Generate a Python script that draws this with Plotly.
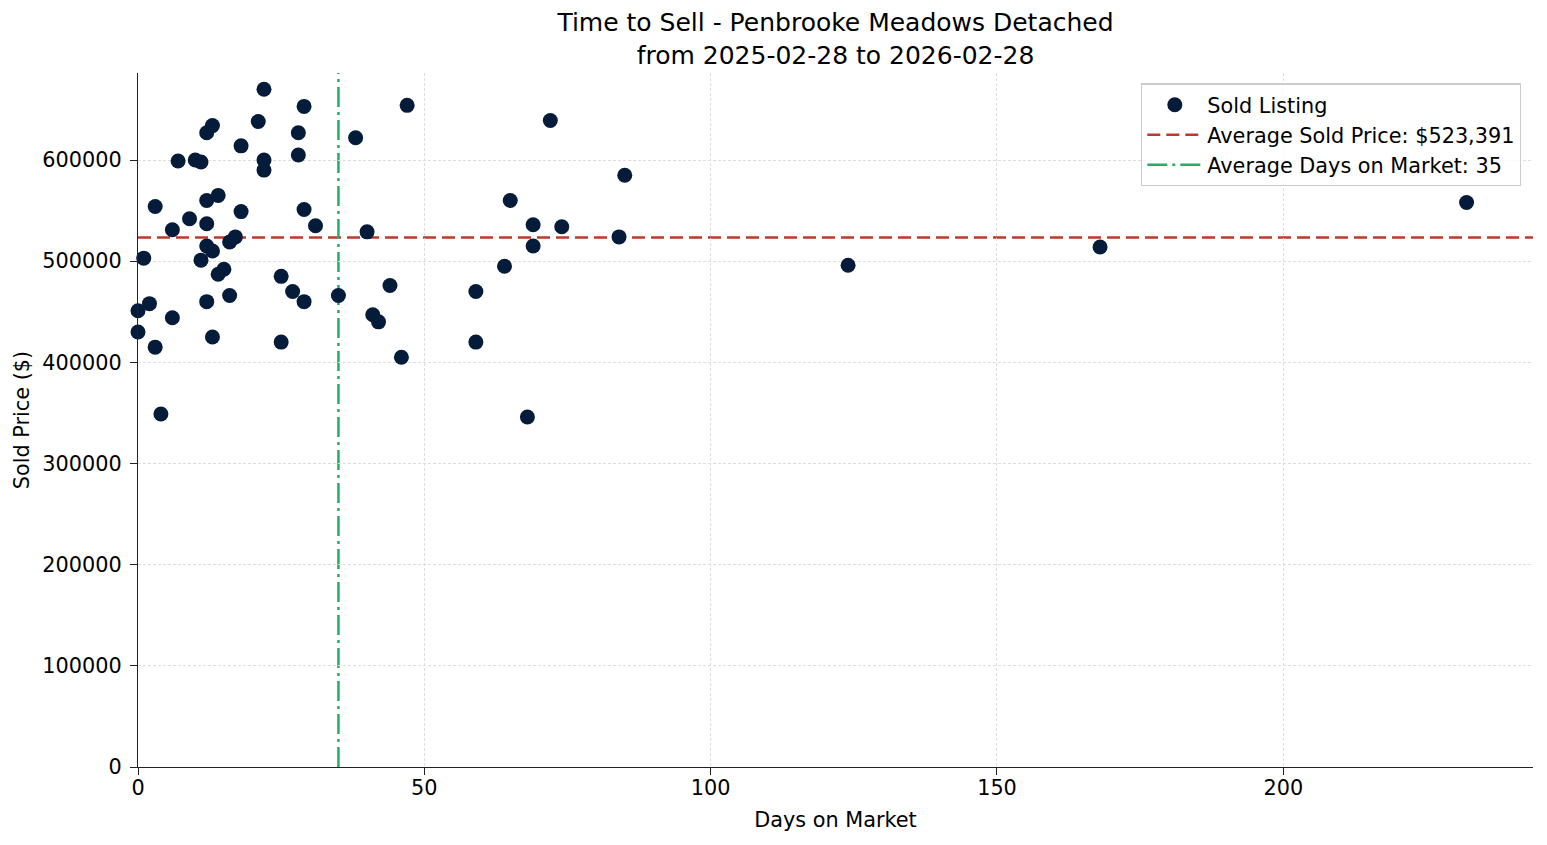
import plotly.graph_objects as go

# days on market / sold price for each sold listing
days_on_market = [22, 29, 47, 21, 13, 12, 28, 38, 72, 18, 28, 7, 10, 11, 22, 22, 85,
                  14, 12, 65, 3, 29, 18, 9, 12, 69, 74, 31, 6, 40, 17, 84, 16, 12,
                  69, 168, 13, 1, 11, 64, 124, 15, 14, 25, 44, 27, 59, 16, 35, 29,
                  12, 2, 0, 41, 6, 42, 0, 13, 25, 59, 3, 46, 4, 68, 232]
sold_price = [670000, 653000, 654000, 638000, 634000, 627000, 627000, 622000, 639000,
              614000, 605000, 599000, 600000, 598000, 600000, 590000, 585000, 565000,
              560000, 560000, 554000, 551000, 549000, 542000, 537000, 536000, 534000,
              535000, 531000, 529000, 524000, 524000, 519000, 515000, 515000, 514000,
              510000, 503000, 501000, 495000, 496000, 492000, 487000, 485000, 476000,
              470000, 470000, 466000, 466000, 460000, 460000, 458000, 451000, 447000,
              444000, 440000, 430000, 425000, 420000, 420000, 415000, 405000, 349000,
              346000, 558000]

avg_price = 523391
avg_days = 35

fig = go.Figure()

fig.add_trace(go.Scatter(
    x=days_on_market, y=sold_price, mode="markers", name="Sold Listing",
    marker=dict(color="#041c3a", size=15, line=dict(width=0)),
    cliponaxis=False,
))

fig.add_hline(y=avg_price, line=dict(color="#c0392b", width=2.5, dash="13px,6px"),
              showlegend=True, name=f"Average Sold Price: ${avg_price:,}", layer="below")
fig.add_vline(x=avg_days, line=dict(color="#27ae60", width=2.5, dash="20px,5px,3px,5px"),
              showlegend=True, name=f"Average Days on Market: {avg_days}", layer="below")

fig.update_layout(
    width=1531, height=829,
    paper_bgcolor="white", plot_bgcolor="white",
    font=dict(family="DejaVu Sans", size=20.8, color="black"),
    margin=dict(l=130, r=6, t=65, b=70),
    title=dict(text="Time to Sell - Penbrooke Meadows Detached<br>from 2025-02-28 to 2026-02-28",
               x=0.5, xref="paper", xanchor="center", y=1 - 23 / 829, yref="container",
               yanchor="middle", font=dict(size=25)),
    showlegend=True,
    legend=dict(x=0.9914, y=0.985, xanchor="right", yanchor="top",
                bgcolor="rgba(255,255,255,0.8)", bordercolor="#cccccc", borderwidth=1.3,
                itemwidth=55, font=dict(size=20.8)),
)

axis_style = dict(
    showline=True, linecolor="#222222", linewidth=1.4, mirror=False,
    ticks="outside", ticklen=7, tickwidth=1.4, tickcolor="#222222",
    showgrid=True, gridcolor="#dddddd", griddash="3px,2px", gridwidth=0.8,
    zeroline=False, tickfont=dict(size=20.8), automargin=False,
)

fig.update_xaxes(
    title=dict(text="Days on Market", font=dict(size=20.8), standoff=13),
    range=[0, 243.6], tickvals=[0, 50, 100, 150, 200],
    ticklabelstandoff=-5,
    **axis_style,
)
fig.update_yaxes(
    title=dict(text="Sold Price ($)", font=dict(size=20.8), standoff=6),
    range=[0, 686000], tickvals=[0, 100000, 200000, 300000, 400000, 500000, 600000],
    tickformat="d", ticklabelstandoff=4,
    **axis_style,
)

fig.write_html("out.html")
